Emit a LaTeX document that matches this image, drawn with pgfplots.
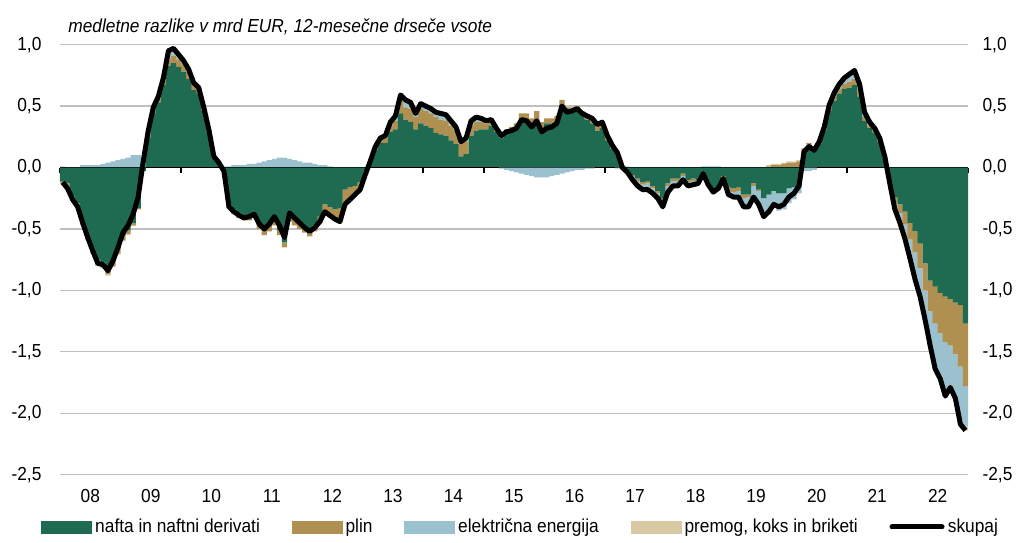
\documentclass[border=0pt]{standalone}
\usepackage{fontspec}
\setmainfont{Liberation Sans}[FakeStretch=0.92]
\usepackage{pgfplots}
\usepackage{pgfplotstable}
\pgfplotsset{compat=1.18}
\definecolor{cN}{HTML}{1F6B51}
\definecolor{cP}{HTML}{B09050}
\definecolor{cE}{HTML}{9BC1CF}
\definecolor{cC}{HTML}{D9C9A3}
\definecolor{gridgray}{HTML}{BFBFBF}

% i = month index (0 = Jan 2008); n = nafta, p = plin, e = elektrika, c = premog, t = skupaj
\pgfplotstableread{
i n p e c t
0 -0.11 -0.01 -0.01 0.01 -0.12
1 -0.13 -0.02 -0.02 0 -0.17
2 -0.23 -0.02 -0.01 0 -0.26
3 -0.29 -0.03 0 0 -0.32
4 -0.43 -0.03 0.02 -0.01 -0.45
5 -0.55 -0.03 0.02 -0.01 -0.57
6 -0.66 -0.03 0.02 -0.01 -0.68
7 -0.75 -0.04 0.02 -0.01 -0.78
8 -0.77 -0.04 0.03 -0.01 -0.79
9 -0.83 -0.04 0.04 -0.01 -0.84
10 -0.76 -0.04 0.05 -0.01 -0.76
11 -0.66 -0.04 0.06 -0.01 -0.65
12 -0.55 -0.04 0.07 -0.01 -0.53
13 -0.51 -0.03 0.08 -0.01 -0.47
14 -0.45 -0.02 0.10 -0.01 -0.38
15 -0.33 -0.01 0.10 0 -0.24
16 -0.03 0 0.08 0 0.05
17 0.24 0.01 0.05 0 0.30
18 0.44 0.02 0.03 0 0.49
19 0.53 0.03 0.02 0 0.58
20 0.67 0.04 0.02 0 0.73
21 0.83 0.05 0.07 0 0.95
22 0.85 0.06 0.06 0 0.97
23 0.82 0.06 0.04 0 0.92
24 0.78 0.06 0.03 0 0.87
25 0.72 0.06 0.02 0 0.80
26 0.63 0.05 0.01 0 0.69
27 0.60 0.04 0.01 0 0.65
28 0.46 0.03 0 0 0.49
29 0.29 0.02 0 0 0.31
30 0.08 0.01 0 0 0.09
31 0.04 0 0 0 0.04
32 -0.03 -0.01 0.01 0 -0.03
33 -0.30 -0.03 0.01 0 -0.32
34 -0.34 -0.04 0.02 0 -0.36
35 -0.37 -0.04 0.02 0 -0.39
36 -0.39 -0.04 0.02 0 -0.41
37 -0.39 -0.04 0.03 0 -0.40
38 -0.37 -0.04 0.03 0 -0.38
39 -0.46 -0.04 0.04 0 -0.46
40 -0.51 -0.04 0.05 0 -0.50
41 -0.48 -0.04 0.06 0 -0.46
42 -0.43 -0.04 0.07 0 -0.40
43 -0.51 -0.04 0.08 0 -0.47
44 -0.61 -0.04 0.08 0 -0.57
45 -0.40 -0.04 0.07 0 -0.37
46 -0.43 -0.04 0.06 0 -0.41
47 -0.46 -0.04 0.05 0 -0.45
48 -0.49 -0.04 0.04 0 -0.49
49 -0.51 -0.05 0.04 0 -0.52
50 -0.47 -0.05 0.03 0 -0.49
51 -0.40 -0.06 0.02 0 -0.44
52 -0.30 -0.08 0.02 0 -0.36
53 -0.32 -0.08 0.01 0 -0.39
54 -0.34 -0.08 0 0 -0.42
55 -0.33 -0.10 -0.01 0 -0.44
56 -0.18 -0.10 -0.02 0 -0.30
57 -0.16 -0.08 -0.02 0 -0.26
58 -0.15 -0.06 -0.01 0 -0.22
59 -0.12 -0.05 -0.01 0 -0.18
60 -0.03 -0.02 -0.01 0 -0.06
61 0.04 0.01 0 0 0.05
62 0.14 0.02 0.01 0 0.17
63 0.20 0.03 0.01 0 0.24
64 0.20 0.04 0.02 0 0.26
65 0.29 0.05 0.03 0 0.37
66 0.31 0.07 0.04 0 0.42
67 0.44 0.10 0.05 0 0.59
68 0.39 0.10 0.06 0 0.55
69 0.37 0.11 0.05 0 0.53
70 0.31 0.10 0.03 0 0.44
71 0.36 0.12 0.04 0 0.52
72 0.34 0.12 0.04 0 0.50
73 0.32 0.12 0.04 0 0.48
74 0.28 0.13 0.04 0 0.45
75 0.27 0.12 0.05 0 0.44
76 0.26 0.12 0.05 0 0.43
77 0.22 0.12 0.04 0 0.38
78 0.19 0.11 0.03 0 0.33
79 0.09 0.10 0.02 0 0.21
80 0.11 0.10 0.03 0 0.24
81 0.26 0.08 0.04 0 0.38
82 0.30 0.07 0.04 0 0.41
83 0.31 0.06 0.03 0 0.40
84 0.31 0.05 0.02 0 0.38
85 0.34 0.04 0.01 0 0.39
86 0.29 0.03 0 0 0.32
87 0.24 0.03 -0.01 0 0.26
88 0.28 0.03 -0.02 0 0.29
89 0.30 0.03 -0.03 0 0.30
90 0.33 0.03 -0.04 0 0.32
91 0.40 0.04 -0.05 0 0.39
92 0.39 0.05 -0.06 0 0.38
93 0.35 0.05 -0.07 0 0.33
94 0.39 0.07 -0.08 0 0.38
95 0.32 0.05 -0.08 0 0.29
96 0.36 0.04 -0.08 0 0.32
97 0.36 0.04 -0.07 0 0.33
98 0.38 0.04 -0.06 0 0.36
99 0.51 0.04 -0.05 0 0.50
100 0.46 0.03 -0.04 0 0.45
101 0.46 0.03 -0.03 0 0.46
102 0.47 0.03 -0.02 0 0.48
103 0.43 0.03 -0.02 0 0.44
104 0.39 0.04 -0.01 0 0.42
105 0.36 0.05 -0.01 0 0.40
106 0.30 0.05 0 0 0.35
107 0.32 0.05 0 0 0.37
108 0.22 0.04 0 0 0.26
109 0.15 0.03 0 0 0.18
110 0.10 0.02 -0.01 0.01 0.12
111 -0.01 0.01 -0.01 0.01 0.00
112 -0.03 0 -0.02 0.01 -0.04
113 -0.06 -0.01 -0.03 0 -0.10
114 -0.09 -0.02 -0.04 0 -0.15
115 -0.12 -0.02 -0.04 0 -0.18
116 -0.11 -0.02 -0.05 0 -0.18
117 -0.15 -0.02 -0.04 0 -0.21
118 -0.19 -0.02 -0.04 0 -0.25
119 -0.25 -0.02 -0.05 0 -0.32
120 -0.13 -0.02 -0.05 0 -0.20
121 -0.09 -0.02 -0.04 0 -0.15
122 -0.09 -0.02 -0.04 0 -0.15
123 -0.05 -0.02 -0.03 0 -0.10
124 -0.10 -0.02 -0.03 0 -0.15
125 -0.09 -0.02 -0.03 0 -0.14
126 -0.10 -0.01 -0.02 0 -0.13
127 -0.05 -0.01 0.01 0 -0.05
128 -0.13 -0.02 0.01 0 -0.14
129 -0.19 -0.02 0.01 0 -0.20
130 -0.16 -0.02 0.01 0 -0.17
131 -0.07 -0.02 0 0 -0.09
132 -0.16 -0.03 -0.03 0 -0.22
133 -0.17 -0.03 -0.04 0 -0.24
134 -0.16 -0.03 -0.05 0 -0.24
135 -0.22 -0.03 -0.07 0 -0.32
136 -0.22 -0.02 -0.08 0 -0.32
137 -0.13 -0.02 -0.09 0 -0.24
138 -0.18 -0.01 -0.11 0 -0.30
139 -0.25 0 -0.15 0 -0.40
140 -0.22 0.01 -0.16 0.01 -0.36
141 -0.19 0.02 -0.14 0.01 -0.30
142 -0.21 0.02 -0.14 0.01 -0.32
143 -0.21 0.03 -0.13 0.01 -0.30
144 -0.17 0.04 -0.12 0.01 -0.24
145 -0.16 0.04 -0.10 0.01 -0.21
146 -0.15 0.05 -0.06 0.01 -0.15
147 0.12 0.03 -0.03 0.01 0.13
148 0.18 0.02 -0.03 0 0.17
149 0.14 0.02 -0.02 0 0.14
150 0.19 0.02 0 0 0.21
151 0.30 0.02 0.01 0 0.33
152 0.46 0.03 0.02 0 0.51
153 0.54 0.04 0.03 0 0.61
154 0.60 0.04 0.04 0 0.68
155 0.64 0.04 0.05 0 0.73
156 0.65 0.05 0.06 0 0.76
157 0.67 0.05 0.07 0 0.79
158 0.58 0.04 0.06 0 0.68
159 0.38 0.03 0.04 0 0.45
160 0.32 0.02 0.03 0 0.37
161 0.28 0.02 0.02 0 0.32
162 0.21 0.01 0.02 0 0.24
163 0.07 0.01 0.01 0 0.09
164 -0.10 -0.02 -0.01 0 -0.13
165 -0.24 -0.05 -0.04 -0.01 -0.34
166 -0.30 -0.07 -0.07 -0.01 -0.45
167 -0.36 -0.10 -0.11 -0.01 -0.58
168 -0.45 -0.13 -0.15 -0.01 -0.74
169 -0.52 -0.17 -0.21 -0.01 -0.91
170 -0.62 -0.20 -0.22 -0.01 -1.05
171 -0.78 -0.22 -0.23 -0.01 -1.24
172 -0.92 -0.25 -0.27 -0.01 -1.45
173 -0.97 -0.30 -0.35 -0.02 -1.64
174 -1.02 -0.33 -0.35 -0.02 -1.72
175 -1.05 -0.37 -0.42 -0.02 -1.86
176 -1.07 -0.38 -0.32 -0.02 -1.79
177 -1.10 -0.42 -0.34 -0.02 -1.88
178 -1.12 -0.50 -0.44 -0.03 -2.09
179 -1.27 -0.51 -0.33 -0.03 -2.14
}\datatable

\pgfplotsset{
  base/.style={at={(36pt,41pt)}, anchor=south west, scale only axis,
    width=544.8pt, height=258pt, xmin=-0.5, xmax=179.5, ymin=-2.5, ymax=1.0},
  numfmt/.style={/pgf/number format/fixed, /pgf/number format/fixed zerofill,
    /pgf/number format/precision=1, /pgf/number format/use comma,
    /pgf/number format/assume math mode=true},
}
\newcommand{\lblfont}{\fontsize{11.3}{13.5}\selectfont}

\begin{document}
\begin{tikzpicture}[font=\lblfont]
\useasboundingbox (0,0) rectangle (611.4pt,325.8pt);

% positive stack, grid, left and bottom labels
\begin{axis}[base, ybar stacked, bar width=1.04,
  axis x line*=bottom, axis y line*=left,
  x axis line style={draw=none}, y axis line style={draw=none},
  major tick length=0pt,
  ytick={-2.5,-2,-1.5,-1,-0.5,0,0.5,1},
  ymajorgrids, grid style={draw=gridgray, line width=0.8pt},
  xtick={5.5,17.5,...,173.5},
  xticklabels={08,09,10,11,12,13,14,15,16,17,18,19,20,21,22},
  yticklabel style={numfmt, xshift=-7.6pt},
  xticklabel style={yshift=-5.2pt},
  tick label style={font=\lblfont},
]
\addplot[fill=cN, draw=none] table[x=i, y expr={max(\thisrow{n},0)}] {\datatable};
\addplot[fill=cP, draw=none] table[x=i, y expr={max(\thisrow{p},0)}] {\datatable};
\addplot[fill=cE, draw=none] table[x=i, y expr={max(\thisrow{e},0)}] {\datatable};
\addplot[fill=cC, draw=none] table[x=i, y expr={max(\thisrow{c},0)}] {\datatable};
\end{axis}

% negative stack and zero line
\begin{axis}[base, ybar stacked, bar width=1.04, hide axis, clip=false]
\addplot[fill=cN, draw=none] table[x=i, y expr={min(\thisrow{n},0)}] {\datatable};
\addplot[fill=cP, draw=none] table[x=i, y expr={min(\thisrow{p},0)}] {\datatable};
\addplot[fill=cE, draw=none] table[x=i, y expr={min(\thisrow{e},0)}] {\datatable};
\addplot[fill=cC, draw=none] table[x=i, y expr={min(\thisrow{c},0)}] {\datatable};
\draw[black, line width=1pt] (axis cs:-0.5,0) -- (axis cs:179.5,0);
\pgfplotsinvokeforeach{-0.5,11.5,...,179.5}{
  \draw[black, line width=1pt] (axis cs:#1,0) -- ([yshift=-3.3pt]axis cs:#1,0);
}
\end{axis}

% total line, right labels, legend
\begin{axis}[base, hide x axis, axis y line*=right, y axis line style={draw=none},
  major tick length=0pt, clip=false,
  ytick={-2.5,-2,-1.5,-1,-0.5,0,0.5,1},
  yticklabel style={numfmt, xshift=5.2pt},
  tick label style={font=\lblfont},
  legend style={at={(0.508,-0.1217)}, anchor=center, draw=none, fill=none,
    legend columns=5, font=\lblfont,
    /tikz/every even column/.append style={column sep=17pt}},
  legend cell align=left,
]
\addlegendimage{legend image code/.code={\fill[cN] (0pt,-3.6pt) rectangle (30pt,3.6pt);}}
\addlegendentry{nafta in naftni derivati}
\addlegendimage{legend image code/.code={\fill[cP] (0pt,-3.6pt) rectangle (30pt,3.6pt);}}
\addlegendentry{plin}
\addlegendimage{legend image code/.code={\fill[cE] (0pt,-3.6pt) rectangle (30pt,3.6pt);}}
\addlegendentry{električna energija}
\addlegendimage{legend image code/.code={\fill[cC] (0pt,-3.6pt) rectangle (30pt,3.6pt);}}
\addlegendentry{premog, koks in briketi}
\addplot[black, line width=3pt, line join=round,
  legend image code/.code={\draw[black, line width=3pt, line cap=round] (0pt,0pt) -- (30pt,0pt);}]
  table[x=i, y=t] {\datatable};
\addlegendentry{skupaj}
\end{axis}

\node[anchor=base west, inner sep=0pt, font=\itshape\lblfont] at (40.8pt,306pt)
  {medletne razlike v mrd EUR, 12-mesečne drseče vsote};
\end{tikzpicture}
\end{document}
